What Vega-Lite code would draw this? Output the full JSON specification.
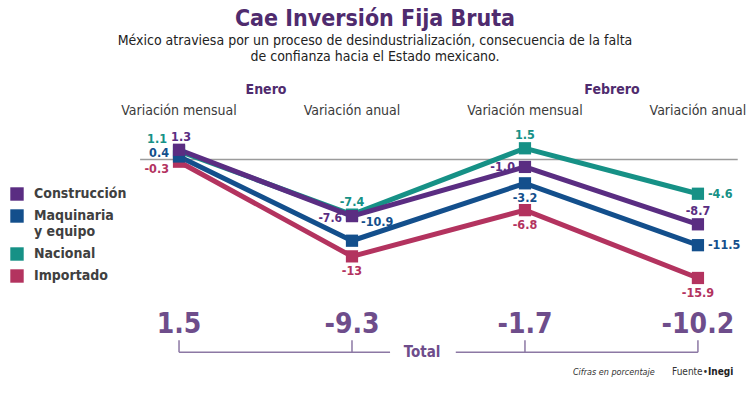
{
  "$schema": "https://vega.github.io/schema/vega-lite/v6.json",
  "width": 750,
  "height": 393,
  "autosize": {"type": "fit", "contains": "padding"},
  "padding": {"top": 8, "left": 0, "right": 0, "bottom": 0},
  "background": "white",
  "config": {"view": {"stroke": null}, "font": "DejaVu Sans Condensed, Liberation Sans, sans-serif"},
  "title": {
    "text": "Cae Inversión Fija Bruta",
    "subtitle": ["México atraviesa por un proceso de desindustrialización, consecuencia de la falta", "de confianza hacia el Estado mexicano."],
    "anchor": "middle",
    "frame": "group",
    "font": "DejaVu Sans Condensed, Liberation Sans, sans-serif",
    "fontSize": 23,
    "fontWeight": "bold",
    "color": "#4f2b6e",
    "subtitleFont": "DejaVu Sans Condensed, Liberation Sans, sans-serif",
    "subtitleFontSize": 14,
    "subtitleColor": "#222222",
    "subtitleLineHeight": 16,
    "subtitlePadding": 3,
    "offset": 4
  },
  "datasets": {
    "series": [
      {"serie": "Importado", "idx": 0, "mes": "Enero", "medida": "Variación mensual", "valor": -0.3},
      {"serie": "Importado", "idx": 1, "mes": "Enero", "medida": "Variación anual", "valor": -13},
      {"serie": "Importado", "idx": 2, "mes": "Febrero", "medida": "Variación mensual", "valor": -6.8},
      {"serie": "Importado", "idx": 3, "mes": "Febrero", "medida": "Variación anual", "valor": -15.9},
      {"serie": "Nacional", "idx": 0, "mes": "Enero", "medida": "Variación mensual", "valor": 1.1},
      {"serie": "Nacional", "idx": 1, "mes": "Enero", "medida": "Variación anual", "valor": -7.4},
      {"serie": "Nacional", "idx": 2, "mes": "Febrero", "medida": "Variación mensual", "valor": 1.5},
      {"serie": "Nacional", "idx": 3, "mes": "Febrero", "medida": "Variación anual", "valor": -4.6},
      {"serie": "Maquinaria y equipo", "idx": 0, "mes": "Enero", "medida": "Variación mensual", "valor": 0.4},
      {"serie": "Maquinaria y equipo", "idx": 1, "mes": "Enero", "medida": "Variación anual", "valor": -10.9},
      {"serie": "Maquinaria y equipo", "idx": 2, "mes": "Febrero", "medida": "Variación mensual", "valor": -3.2},
      {"serie": "Maquinaria y equipo", "idx": 3, "mes": "Febrero", "medida": "Variación anual", "valor": -11.5},
      {"serie": "Construcción", "idx": 0, "mes": "Enero", "medida": "Variación mensual", "valor": 1.3},
      {"serie": "Construcción", "idx": 1, "mes": "Enero", "medida": "Variación anual", "valor": -7.6},
      {"serie": "Construcción", "idx": 2, "mes": "Febrero", "medida": "Variación mensual", "valor": -1.0},
      {"serie": "Construcción", "idx": 3, "mes": "Febrero", "medida": "Variación anual", "valor": -8.7}
    ],
    "totales": [
      {"idx": 0, "mes": "Enero", "medida": "Variación mensual", "total": 1.5},
      {"idx": 1, "mes": "Enero", "medida": "Variación anual", "total": -9.3},
      {"idx": 2, "mes": "Febrero", "medida": "Variación mensual", "total": -1.7},
      {"idx": 3, "mes": "Febrero", "medida": "Variación anual", "total": -10.2}
    ]
  },
  "data": {"name": "series"},
  "resolve": {"legend": {"color": "independent"}},
  "layer": [
    {
      "data": {"values": [{"ref": 0}]},
      "mark": {"type": "rule", "color": "#9b9b9b", "strokeWidth": 1.5},
      "encoding": {
        "x": {"datum": -0.225, "type": "quantitative", "scale": {"domain": [-1.035, 3.301], "nice": false, "zero": false}, "axis": null},
        "x2": {"datum": 3.23},
        "y": {"field": "ref", "type": "quantitative", "scale": {"domain": [-31.33, 12.27], "nice": false, "zero": false}, "axis": null}
      }
    },
    {
      "mark": {"type": "line", "strokeWidth": 5},
      "encoding": {
        "x": {"field": "idx", "type": "quantitative"},
        "y": {"field": "valor", "type": "quantitative"},
        "color": {"field": "serie", "type": "nominal", "legend": null,
          "scale": {"domain": ["Construcción", "Maquinaria y equipo", "Nacional", "Importado"], "range": ["#5a2d82", "#134f8c", "#169186", "#b3335f"]}}
      }
    },
    {
      "mark": {"type": "square", "size": 150, "opacity": 1, "filled": true},
      "encoding": {
        "x": {"field": "idx", "type": "quantitative"},
        "y": {"field": "valor", "type": "quantitative"},
        "color": {"field": "serie", "type": "nominal",
          "legend": {
            "orient": "none", "legendX": 10, "legendY": 119, "title": null,
            "symbolType": "square", "symbolSize": 180, "symbolStrokeWidth": 0,
            "labelFontSize": 14, "labelFontWeight": "bold", "labelColor": "#404040",
            "labelOffset": 10, "rowPadding": 8,
            "labelExpr": "datum.label == 'Maquinaria y equipo' ? ['Maquinaria', 'y equipo'] : datum.label"
          }
        }
      }
    },
    {
      "transform": [{"filter": "(datum.serie == 'Construcción' && datum.idx == 3) || (datum.serie == 'Nacional' && (datum.idx == 1 || datum.idx == 2))"}],
      "mark": {"type": "text", "fontSize": 12.5, "fontWeight": "bold", "baseline": "alphabetic", "dy": -9,
        "text": {"expr": "abs(datum.valor) < 10 ? replace(format(datum.valor, '.1f'), '\u2212', '-') : toString(datum.valor)"}},
      "encoding": {"x": {"field": "idx", "type": "quantitative"}, "y": {"field": "valor", "type": "quantitative"}, "color": {"field": "serie", "type": "nominal", "legend": null}}
    },
    {
      "transform": [{"filter": "datum.serie == 'Construcción' && datum.idx == 0"}],
      "mark": {"type": "text", "fontSize": 12.5, "fontWeight": "bold", "baseline": "alphabetic", "dy": -9, "dx": 2,
        "text": {"expr": "replace(format(datum.valor, '.1f'), '\u2212', '-')"}},
      "encoding": {"x": {"field": "idx", "type": "quantitative"}, "y": {"field": "valor", "type": "quantitative"}, "color": {"field": "serie", "type": "nominal", "legend": null}}
    },
    {
      "transform": [{"filter": "(datum.serie == 'Importado' && datum.idx >= 1) || (datum.serie == 'Maquinaria y equipo' && datum.idx == 2)"}],
      "mark": {"type": "text", "fontSize": 12.5, "fontWeight": "bold", "baseline": "top", "dy": 9,
        "text": {"expr": "abs(datum.valor) < 10 ? replace(format(datum.valor, '.1f'), '\u2212', '-') : toString(datum.valor)"}},
      "encoding": {"x": {"field": "idx", "type": "quantitative"}, "y": {"field": "valor", "type": "quantitative"}, "color": {"field": "serie", "type": "nominal", "legend": null}}
    },
    {
      "transform": [{"filter": "(datum.serie == 'Nacional' && datum.idx == 3) || (datum.serie == 'Maquinaria y equipo' && datum.idx == 3)"}],
      "mark": {"type": "text", "fontSize": 12.5, "fontWeight": "bold", "baseline": "middle", "align": "left", "dx": 10,
        "text": {"expr": "abs(datum.valor) < 10 ? replace(format(datum.valor, '.1f'), '\u2212', '-') : toString(datum.valor)"}},
      "encoding": {"x": {"field": "idx", "type": "quantitative"}, "y": {"field": "valor", "type": "quantitative"}, "color": {"field": "serie", "type": "nominal", "legend": null}}
    },
    {
      "transform": [{"filter": "datum.serie == 'Maquinaria y equipo' && datum.idx == 1"}],
      "mark": {"type": "text", "fontSize": 12.5, "fontWeight": "bold", "baseline": "middle", "align": "left", "dx": 9, "dy": -19,
        "text": {"expr": "toString(datum.valor)"}},
      "encoding": {"x": {"field": "idx", "type": "quantitative"}, "y": {"field": "valor", "type": "quantitative"}, "color": {"field": "serie", "type": "nominal", "legend": null}}
    },
    {
      "transform": [{"filter": "datum.serie == 'Nacional' && datum.idx == 0"}],
      "mark": {"type": "text", "fontSize": 12.5, "fontWeight": "bold", "baseline": "middle", "align": "right", "dx": -12, "dy": -12,
        "text": {"expr": "replace(format(datum.valor, '.1f'), '\u2212', '-')"}},
      "encoding": {"x": {"field": "idx", "type": "quantitative"}, "y": {"field": "valor", "type": "quantitative"}, "color": {"field": "serie", "type": "nominal", "legend": null}}
    },
    {
      "transform": [{"filter": "datum.serie == 'Maquinaria y equipo' && datum.idx == 0"}],
      "mark": {"type": "text", "fontSize": 12.5, "fontWeight": "bold", "baseline": "middle", "align": "right", "dx": -10, "dy": -3,
        "text": {"expr": "replace(format(datum.valor, '.1f'), '\u2212', '-')"}},
      "encoding": {"x": {"field": "idx", "type": "quantitative"}, "y": {"field": "valor", "type": "quantitative"}, "color": {"field": "serie", "type": "nominal", "legend": null}}
    },
    {
      "transform": [{"filter": "datum.serie == 'Importado' && datum.idx == 0"}],
      "mark": {"type": "text", "fontSize": 12.5, "fontWeight": "bold", "baseline": "middle", "align": "right", "dx": -10, "dy": 7,
        "text": {"expr": "replace(format(datum.valor, '.1f'), '\u2212', '-')"}},
      "encoding": {"x": {"field": "idx", "type": "quantitative"}, "y": {"field": "valor", "type": "quantitative"}, "color": {"field": "serie", "type": "nominal", "legend": null}}
    },
    {
      "transform": [{"filter": "datum.serie == 'Construcción' && datum.idx == 1"}],
      "mark": {"type": "text", "fontSize": 12, "fontWeight": "bold", "baseline": "middle", "align": "right", "dx": -10, "dy": 2,
        "text": {"expr": "replace(format(datum.valor, '.1f'), '\u2212', '-')"}},
      "encoding": {"x": {"field": "idx", "type": "quantitative"}, "y": {"field": "valor", "type": "quantitative"}, "color": {"field": "serie", "type": "nominal", "legend": null}}
    },
    {
      "transform": [{"filter": "datum.serie == 'Construcción' && datum.idx == 2"}],
      "mark": {"type": "text", "fontSize": 12.5, "fontWeight": "bold", "baseline": "middle", "align": "right", "dx": -10, "dy": 0,
        "text": {"expr": "replace(format(datum.valor, '.1f'), '\u2212', '-')"}},
      "encoding": {"x": {"field": "idx", "type": "quantitative"}, "y": {"field": "valor", "type": "quantitative"}, "color": {"field": "serie", "type": "nominal", "legend": null}}
    },
    {
      "transform": [{"filter": "datum.serie == 'Construcción'"}],
      "mark": {"type": "text", "fontSize": 14, "color": "#3a3a3a", "baseline": "middle"},
      "encoding": {"x": {"field": "idx", "type": "quantitative"}, "y": {"datum": 6.53, "type": "quantitative"}, "text": {"field": "medida"}}
    },
    {
      "data": {"name": "totales"},
      "transform": [{"filter": "datum.idx == 0 || datum.idx == 2"}],
      "mark": {"type": "text", "fontSize": 14, "fontWeight": "bold", "color": "#4f2b6e", "baseline": "middle", "dx": 87},
      "encoding": {"x": {"field": "idx", "type": "quantitative"}, "y": {"datum": 9.33, "type": "quantitative"}, "text": {"field": "mes"}}
    },
    {
      "data": {"name": "totales"},
      "mark": {"type": "text", "fontSize": 28, "fontWeight": "bold", "color": "#6e4d8b", "baseline": "middle"},
      "encoding": {"x": {"field": "idx", "type": "quantitative"}, "y": {"datum": -22.27, "type": "quantitative"}, "text": {"field": "total", "type": "nominal"}}
    },
    {
      "data": {"name": "totales"},
      "mark": {"type": "rule", "color": "#8c78a4", "strokeWidth": 1.5},
      "encoding": {"x": {"field": "idx", "type": "quantitative"}, "y": {"datum": -24.27, "type": "quantitative"}, "y2": {"datum": -25.87}}
    },
    {
      "data": {"values": [{"ref": -25.87}]},
      "mark": {"type": "rule", "color": "#8c78a4", "strokeWidth": 1.5},
      "encoding": {"x": {"datum": 0, "type": "quantitative"}, "x2": {"datum": 1.22}, "y": {"field": "ref", "type": "quantitative"}}
    },
    {
      "data": {"values": [{"ref": -25.87}]},
      "mark": {"type": "rule", "color": "#8c78a4", "strokeWidth": 1.5},
      "encoding": {"x": {"datum": 1.6, "type": "quantitative"}, "x2": {"datum": 3}, "y": {"field": "ref", "type": "quantitative"}}
    },
    {
      "data": {"values": [{"ref": -25.87}]},
      "mark": {"type": "text", "text": "Total", "fontSize": 15, "fontWeight": "bold", "color": "#6e4d8b", "baseline": "middle"},
      "encoding": {"x": {"datum": 1.405, "type": "quantitative"}, "y": {"field": "ref", "type": "quantitative"}}
    },
    {
      "data": {"values": [{"ref": -28.53}]},
      "mark": {"type": "text", "text": "Cifras en porcentaje", "fontSize": 9, "fontStyle": "italic", "color": "#333333", "baseline": "middle"},
      "encoding": {"x": {"datum": 2.514, "type": "quantitative"}, "y": {"field": "ref", "type": "quantitative"}}
    },
    {
      "data": {"values": [{"ref": -28.53}]},
      "mark": {"type": "text", "text": "Fuente•", "fontSize": 10, "color": "#333333", "baseline": "middle", "align": "right"},
      "encoding": {"x": {"datum": 3.058, "type": "quantitative"}, "y": {"field": "ref", "type": "quantitative"}}
    },
    {
      "data": {"values": [{"ref": -28.53}]},
      "mark": {"type": "text", "text": "Inegi", "fontSize": 10, "fontWeight": "bold", "color": "#222222", "baseline": "middle", "align": "left"},
      "encoding": {"x": {"datum": 3.058, "type": "quantitative"}, "y": {"field": "ref", "type": "quantitative"}}
    }
  ]
}
